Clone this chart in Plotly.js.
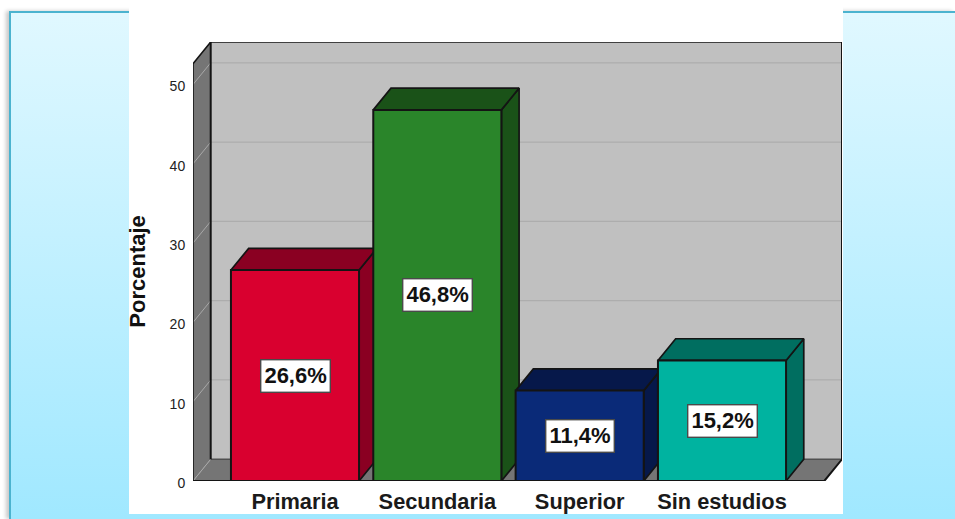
<!DOCTYPE html>
<html>
<head>
<meta charset="utf-8">
<script src="https://cdn.plot.ly/plotly-3.0.1.min.js"></script>
<style>
html,body{margin:0;padding:0;background:#fff;width:955px;height:519px;overflow:hidden}
#slide{position:absolute;left:9px;top:11px;width:946px;height:508px;box-sizing:border-box;border-top:2px solid #4bb3cf;border-left:2px solid #4bb3cf;
background:linear-gradient(#e0f8ff 0%,#a0e8ff 100%);box-shadow:-3px 0 4px rgba(0,0,0,.22)}
#panel{position:absolute;left:129px;top:0;width:714px;height:514px;background:#fff}
#chart{position:absolute;left:0;top:0;width:955px;height:519px}
</style>
</head>
<body>
<div id="slide"></div>
<div id="panel"></div>
<div id="chart"></div>
<script>
const categories = ["Primaria", "Secundaria", "Superior", "Sin estudios"];
const porcentajes = [26.6, 46.8, 11.4, 15.2];
const etiquetas = ["26,6%", "46,8%", "11,4%", "15,2%"];
const frontColors = ["#d9002f", "#2a852a", "#0a2a78", "#00b3a0"];
const depthColors = ["#8a0022", "#1a5218", "#06184a", "#006e60"];
const yTicks = [0, 10, 20, 30, 40, 50];

// depth of the pseudo-3D projection, in axis units
const depthX = 0.1244, depthY = 2.74;
const halfBar = 0.45;
const xRange = [-0.7166, 3.843];
const yRange = [0, 55.36];
const xFront = [xRange[0], xRange[1] - depthX];
const yTop = yRange[1] - depthY;

const ink = "#141414";
function poly(xs, ys, fill, line, w) {
  return {type: "scatter", mode: "lines", x: xs, y: ys, fill: "toself", fillcolor: fill,
    line: {color: line || fill, width: w === undefined ? 1.5 : w}, hoverinfo: "skip", showlegend: false, xaxis: "x", yaxis: "y"};
}
function seg(xs, ys, color, w) {
  return {type: "scatter", mode: "lines", x: xs, y: ys, line: {color: color, width: w}, hoverinfo: "skip", showlegend: false, xaxis: "x", yaxis: "y", cliponaxis: false};
}
const traces = [];
const bx = xFront[0] + depthX, bxr = xRange[1];
// back wall, left wall, floor
traces.push(poly([bx, bxr, bxr, bx, bx], [depthY, depthY, yRange[1], yRange[1], depthY], "#c0c0c0", "#c0c0c0", 0));
traces.push(poly([xFront[0], bx, bx, xFront[0], xFront[0]], [0, depthY, yRange[1], yTop, 0], "#757575", "#757575", 0));
traces.push(poly([xFront[0], xFront[1], bxr, bx, xFront[0]], [0, 0, depthY, depthY, 0], "#757575", "#757575", 0));
// gridlines on walls
yTicks.slice(1).forEach(t => {
  traces.push(seg([xFront[0], bx], [t, t + depthY], "#a8a8a8", 1));
  traces.push(seg([bx, bxr], [t + depthY, t + depthY], "#adadad", 1.2));
});
traces.push(seg([xFront[0], bx], [0, depthY], "#a8a8a8", 1));
// wall edges
traces.push(seg([bx, bxr], [depthY, depthY], "#505050", 1.6));
traces.push(seg([bx, bxr], [yRange[1], yRange[1]], "#404040", 2.2));
traces.push(seg([bx, bx], [yRange[1], depthY], ink, 2));
traces.push(seg([bxr, bxr], [yRange[1], depthY], ink, 2));
traces.push(seg([xFront[0], xFront[0], bx], [0, yTop, yRange[1]], ink, 1.6));
traces.push(seg([bxr, xFront[1], xFront[0]], [depthY, 0, 0], ink, 2));
// bar side and top faces
categories.forEach((c, i) => {
  const v = porcentajes[i], l = i - halfBar, r = i + halfBar;
  traces.push(poly([r, r + depthX, r + depthX, r, r], [0, depthY, v + depthY, v, 0], depthColors[i], ink, 1.7));
  traces.push(poly([l, l + depthX, r + depthX, r, l], [v, v + depthY, v + depthY, v, v], depthColors[i], ink, 1.7));
});
// bar fronts on an overlaid subplot so they cover neighbouring side faces
traces.push({type: "bar", x: categories.map((c, i) => i), y: porcentajes, width: halfBar * 2,
  marker: {color: frontColors, line: {color: ink, width: 2}}, text: etiquetas, textposition: "none",
  hoverinfo: "skip", showlegend: false, xaxis: "x2", yaxis: "y2"});

const barLabels = categories.map((c, i) => ({
  x: i, y: porcentajes[i] / 2, xref: "x", yref: "y", text: "<b>" + etiquetas[i] + "</b>", showarrow: false,
  font: {size: 22, color: "#111"}, bgcolor: "#ffffff", bordercolor: "#4a4a4a", borderwidth: 1.4, borderpad: 3
}));
const yTitle = {x: -0.0847, y: 26.4, xref: "paper", yref: "y", xanchor: "center", yanchor: "middle", textangle: -90,
  text: "<b>Porcentaje</b>", showarrow: false, font: {size: 22, color: "#111"}};

const layout = {
  width: 955, height: 519,
  margin: {l: 193, r: 113, t: 42, b: 38, pad: 0},
  paper_bgcolor: "rgba(0,0,0,0)", plot_bgcolor: "rgba(0,0,0,0)",
  showlegend: false,
  font: {family: "Liberation Sans, Arial, sans-serif", color: "#1a1a1a"},
  xaxis: {range: xRange, tickmode: "array", tickvals: categories.map((c, i) => i), ticktext: categories.map(c => "<b>" + c + "</b>"),
    tickfont: {size: 21.8, color: "#1a1a1a"}, showgrid: false, zeroline: false, showline: false, ticks: "outside", ticklen: 1, tickcolor: "rgba(0,0,0,0)", fixedrange: true},
  yaxis: {range: yRange, tickmode: "array", tickvals: yTicks, ticktext: yTicks.map(String), ticklabelshift: 2,
    tickfont: {size: 14, color: "#222"}, showgrid: false, zeroline: false, showline: false, ticks: "outside", ticklen: 4, tickcolor: "rgba(0,0,0,0)", fixedrange: true},
  xaxis2: {range: xRange, overlaying: "x", visible: false, fixedrange: true, anchor: "y2"},
  yaxis2: {range: yRange, overlaying: "y", visible: false, fixedrange: true, anchor: "x2"},
  annotations: barLabels.concat([yTitle])
};
Plotly.newPlot("chart", traces, layout, {displayModeBar: false, staticPlot: true});
</script>
</body>
</html>
